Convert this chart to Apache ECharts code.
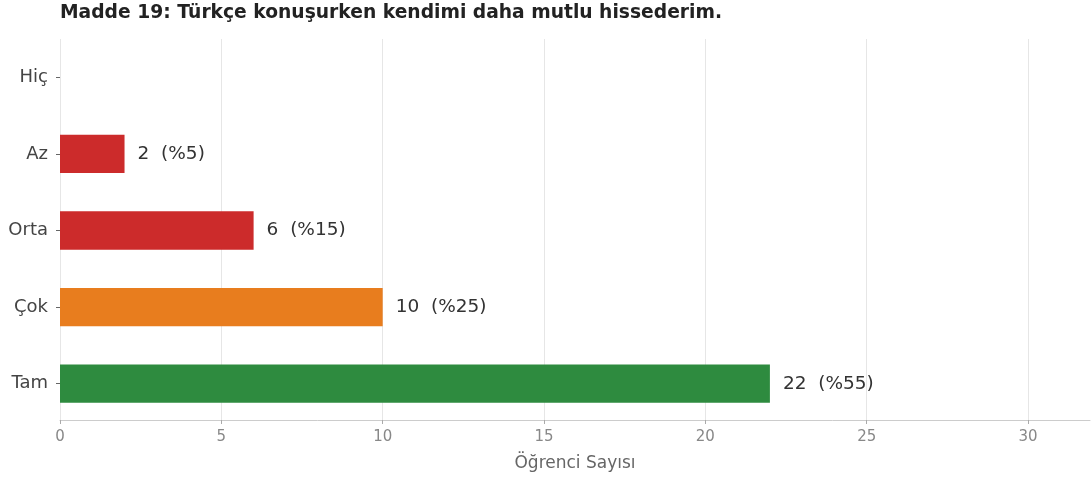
<!DOCTYPE html>
<html>
<head>
<meta charset="utf-8">
<script src="https://cdn.jsdelivr.net/npm/echarts@6/dist/echarts.min.js"></script>
<style>
  html, body { margin: 0; padding: 0; background: #fff; }
  #chart { width: 1091px; height: 479px; }
</style>
</head>
<body>
<div id="chart"></div>
<script>
var categories = ['Hiç', 'Az', 'Orta', 'Çok', 'Tam'];
var counts = [0, 2, 6, 10, 22];
var barColors = ['#cc2b2b', '#cc2b2b', '#cc2b2b', '#e87d1e', '#2e8b3f'];
var xTicks = [0, 5, 10, 15, 20, 25, 30];

var total = counts.reduce(function (a, b) { return a + b; }, 0);
var font = 'DejaVu Sans';

var option = {
    animation: false,
    title: {
        text: 'Madde 19: Türkçe konuşurken kendimi daha mutlu hissederim.',
        left: 60,
        top: 4,
        padding: 0,
        textStyle: { fontFamily: font, fontSize: 18.7, fontWeight: 'bold', color: '#222' }
    },
    grid: { left: 60, right: 1, top: 39, bottom: 57, containLabel: false },
    xAxis: {
        type: 'value',
        min: 0,
        max: 31.92,
        interval: 5,
        offset: -2,
        name: 'Öğrenci Sayısı',
        nameLocation: 'middle',
        nameGap: 35,
        nameTextStyle: { fontFamily: font, fontSize: 17, color: '#666' },
        axisLine: { show: true, lineStyle: { color: '#cccccc' } },
        axisTick: { show: true, length: 4, customValues: xTicks, lineStyle: { color: '#aaaaaa' } },
        axisLabel: {
            fontFamily: font, fontSize: 15, color: '#888', margin: 10,
            customValues: xTicks
        },
        splitLine: { show: true, lineStyle: { color: '#e6e6e6' } }
    },
    yAxis: {
        type: 'category',
        data: categories,
        inverse: true,
        axisLine: { show: false },
        axisTick: { show: true, alignWithLabel: true, length: 4, lineStyle: { color: '#666' } },
        axisLabel: { fontFamily: font, fontSize: 18, color: '#444', margin: 12 }
    },
    series: [{
        type: 'bar',
        data: counts.map(function (v, i) {
            return { value: v, itemStyle: { color: barColors[i] } };
        }),
        barWidth: '50%',
        label: {
            show: true,
            position: 'right',
            distance: 13,
            fontFamily: font,
            fontSize: 18.5,
            color: '#333',
            formatter: function (p) {
                if (!p.value) return '';
                return p.value + '  (%' + Math.round(p.value / total * 100) + ')';
            }
        }
    }]
};

var myChart = echarts.init(document.getElementById('chart'));
myChart.setOption(option);
</script>
</body>
</html>
